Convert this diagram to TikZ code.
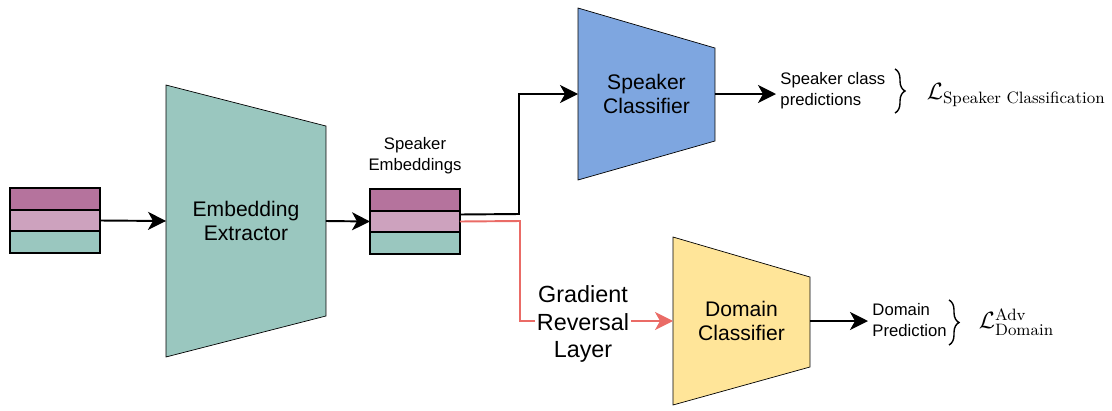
\RequirePackage{fix-cm}
\documentclass[tikz,border=0pt]{standalone}
\usepackage{amsmath}
\usepackage{fontspec}
\newfontfamily\helv{Liberation Sans}
\usetikzlibrary{positioning,calc,arrows.meta,backgrounds,decorations.pathreplacing}
\definecolor{tealfill}{HTML}{9AC7BF}
\definecolor{plum}{HTML}{B5739D}
\definecolor{lilac}{HTML}{CDA2BE}
\definecolor{spkblue}{HTML}{7EA6E0}
\definecolor{domyellow}{HTML}{FFE599}
\definecolor{grlred}{HTML}{EA6B66}

\begin{document}
\begin{tikzpicture}[x=0.02cm, y=-0.02cm, line width=1.1pt,
    arr/.style={-{Stealth[length=0.36cm, width=0.36cm, inset=0.1cm]}},
    redarr/.style={arr, draw=grlred},
    cell/.style={draw, minimum width=1.8cm, minimum height=0.43cm, inner sep=0pt, outer sep=0pt},
    blk/.style={font=\helv\fontsize{12}{14}\selectfont, align=center, inner sep=0pt, outer sep=0pt},
    small/.style={font=\helv\fontsize{9.5}{12}\selectfont, inner sep=2pt},
    grl/.style={font=\helv\fontsize{13.3}{15.5}\selectfont, align=center, fill=white, inner sep=1pt},
    trap/.style={draw, line join=miter},
    brc/.style={decorate, decoration={brace, amplitude=0.2cm}, line width=0.8pt},
    lossfont/.style={font=\fontsize{13.4}{16}\selectfont, anchor=west}]

    \useasboundingbox (0,0) rectangle (1112,410);

    % input frames
    \node[cell, fill=plum] (in1) at (55,199) {};
    \node[cell, fill=lilac, below=0pt of in1] (in2) {};
    \node[cell, fill=tealfill, below=0pt of in2] (in3) {};

    % extractor and classifiers
    \node[blk, minimum width=3.2cm, minimum height=5.44cm] (ext) at (246,221) {Embedding\\Extractor};
    \node[blk, minimum width=2.74cm, minimum height=3.44cm] (spk) at (646.5,94) {Speaker\\Classifier};
    \node[blk, minimum width=2.74cm, minimum height=3.36cm] (dom) at (741.5,321) {Domain\\Classifier};

    \begin{scope}[on background layer]
        \draw[trap, fill=tealfill] (ext.north west) -- ($(ext.north east)+(0,41)$) -- ($(ext.south east)+(0,-41)$) -- (ext.south west) -- cycle;
        \draw[trap, fill=spkblue] (spk.north west) -- ($(spk.north east)+(0,40)$) -- ($(spk.south east)+(0,-39)$) -- (spk.south west) -- cycle;
        \draw[trap, fill=domyellow] (dom.north west) -- ($(dom.north east)+(0,40)$) -- ($(dom.south east)+(0,-38)$) -- (dom.south west) -- cycle;
    \end{scope}

    % speaker embeddings
    \node[cell, fill=plum] (se1) at (415,200) {};
    \node[cell, fill=lilac, below=0pt of se1] (se2) {};
    \node[cell, fill=tealfill, below=0pt of se2] (se3) {};
    \node[small, align=center, above=6pt of se1] (selbl) {Speaker\\Embeddings};

    % outputs
    \node[small, anchor=west, align=left] (spkout) at (776,91) {Speaker class\\predictions};
    \node[small, anchor=west, align=left] (domout) at (868,320) {Domain\\Prediction};
    \node[lossfont] (lspk) at (920,95) {$\mathcal{L}_{\text{Speaker Classification}}$};
    \node[lossfont] (ldom) at (972,322) {$\mathcal{L}^{\text{Adv}}_{\text{Domain}}$};
    \draw[brc] (895,69) -- (895,113);
    \draw[brc] (949,300) -- (949,345);

    % connectors
    \coordinate (bsplit) at (519,214);
    \coordinate (rsplit) at (520,221);
    \draw[arr] (in2.east) -- (ext.west);
    \draw[arr] (ext.east) -- (se2.west);
    \draw[arr] ($(se2.east)+(0,-7)$) -- (bsplit) |- (spk.west);
    \draw[redarr] (se2.east) -- (rsplit) |- (dom.west);
    \draw[arr] (spk.east) -- (spk.east -| spkout.west);
    \draw[arr] (dom.east) -- (dom.east -| domout.west);

    \node[grl] (grlbl) at (583,324) {Gradient\\Reversal\\Layer};
\end{tikzpicture}
\end{document}
